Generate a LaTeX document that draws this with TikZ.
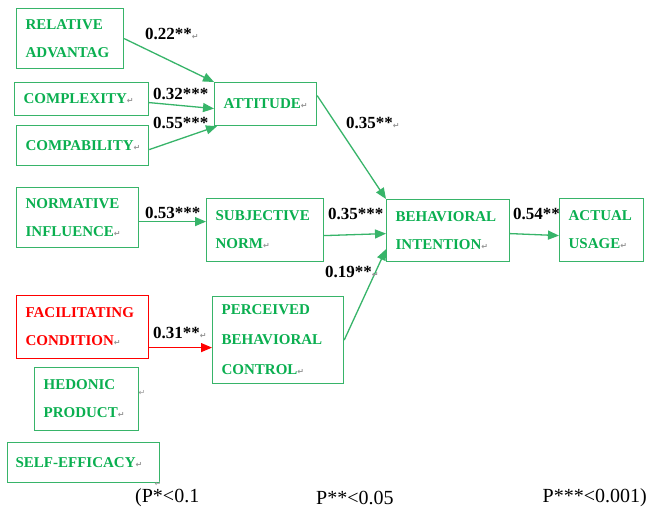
\documentclass[tikz,border=0pt]{standalone}
\usepackage{fontspec}
\setmainfont{Liberation Serif}
\newfontfamily\dvfont{DejaVu Sans}
\usetikzlibrary{arrows.meta}
\definecolor{boxgreen}{RGB}{55,180,105}
\definecolor{txtgreen}{RGB}{10,175,80}
\definecolor{markgray}{RGB}{150,150,150}
\newcommand{\retmark}{{\dvfont\fontsize{8}{8}\selectfont\color{markgray}↵}}
\begin{document}
\begin{tikzpicture}[x=1pt,y=-1pt,
  box/.style={draw=boxgreen, line width=1.2pt, text=txtgreen,
    font=\bfseries\fontsize{15}{28}\selectfont, align=left,
    inner xsep=9pt, inner ysep=0pt, anchor=north west},
  redbox/.style={box, draw=red, text=red},
  arr/.style={draw=boxgreen, line width=1.3pt, -{Triangle[length=11pt,width=9pt]}},
  redarr/.style={arr, draw=red, -{Triangle[length=11pt,width=9pt,fill=red]}},
  lbl/.style={font=\bfseries\fontsize{17}{17}\selectfont, anchor=west, inner sep=0pt},
  leg/.style={font=\fontsize{20}{20}\selectfont, anchor=west, inner sep=0pt},
  mk/.style={inner sep=0pt}]
\useasboundingbox[fill=white] (0,0) rectangle (649,511);

% boxes
\node[box, minimum width=107pt, minimum height=60pt, text width=89pt] (ra) at (16,8) {RELATIVE\\ADVANTAG};
\node[box, minimum width=134pt, minimum height=33pt, text width=116pt] (cx) at (14,82) {COMPLEXITY\retmark};
\node[box, minimum width=132pt, minimum height=40pt, text width=114pt] (cb) at (16,125) {COMPABILITY\retmark};
\node[box, minimum width=102pt, minimum height=43pt, text width=84pt] (att) at (214,82) {ATTITUDE\retmark};
\node[box, minimum width=122pt, minimum height=60pt, text width=104pt] (ni) at (16,187) {NORMATIVE\\INFLUENCE\retmark};
\node[box, minimum width=117pt, minimum height=63pt, text width=99pt] (sn) at (206,198) {SUBJECTIVE\\NORM\retmark};
\node[box, minimum width=123pt, minimum height=62pt, text width=105pt] (bi) at (386,199) {BEHAVIORAL\\INTENTION\retmark};
\node[box, minimum width=84pt, minimum height=63pt, text width=66pt] (au) at (559,198) {ACTUAL\\USAGE\retmark};
\node[redbox, minimum width=132pt, minimum height=63pt, text width=114pt] (fc) at (16,295) {FACILITATING\\CONDITION\retmark};
\node[box, minimum width=131pt, minimum height=87pt, text width=113pt, font=\bfseries\fontsize{15}{30}\selectfont] (pbc) at (212,296) {PERCEIVED\\BEHAVIORAL\\CONTROL\retmark};
\node[box, minimum width=104pt, minimum height=63pt, text width=86pt] (hp) at (34,367) {HEDONIC\\PRODUCT\retmark};
\node[box, minimum width=152pt, minimum height=40pt, text width=136pt, inner xsep=8pt] (se) at (7,442) {SELF-EFFICACY\retmark};

% stray paragraph marks
\node[mk] (m1) at (142,393) {\retmark};
\node[mk] (m2) at (158,484) {\retmark};

% connectors
\draw[arr] (ra.east) -- (att.north west);
\draw[arr] ([yshift=-3.5pt]cx.east) -- ([yshift=-4.5pt]att.west);
\draw[arr] ([yshift=-4pt]cb.east) -- ([xshift=3pt]att.south west);
\draw[arr] ([yshift=8.5pt]att.east) -- (bi.north west);
\draw[arr] ([yshift=-5.5pt]sn.east) -- ([yshift=-3pt]bi.west);
\draw[arr] (pbc.east) -- ([yshift=13pt]bi.south west);
\draw[arr] ([yshift=-3pt]bi.east) -- ([yshift=-5.5pt]au.west);
\draw[arr] ([yshift=-4pt]ni.east) -- ([yshift=8.5pt]sn.west);
\draw[redarr] ([yshift=-20.5pt]fc.east) -- ([yshift=-7.5pt]pbc.west);

% labels
\node[lbl] (l1) at (145,34) {0.22**\retmark};
\node[lbl] (l2) at (153,94) {0.32***};
\node[lbl] (l3) at (153,123) {0.55***};
\node[lbl] (l4) at (346,123) {0.35**\retmark};
\node[lbl] (l5) at (145,213) {0.53***};
\node[lbl] (l6) at (328,214) {0.35***};
\node[lbl] (l7) at (513,214) {0.54**};
\node[lbl] (l8) at (325,272) {0.19**\retmark};
\node[lbl] (l9) at (153,333) {0.31**\retmark};

% legend
\node[leg] (g1) at (135,498) {(P*<0.1};
\node[leg] (g2) at (316,498) {P**<0.05};
\node[leg, anchor=east] (g3) at (647,498) {P***<0.001)};
\end{tikzpicture}
\end{document}
